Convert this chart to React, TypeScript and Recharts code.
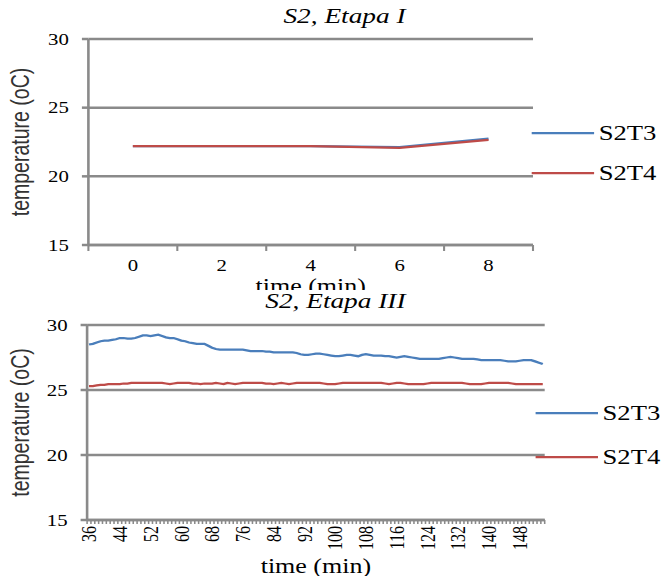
import React from 'react';
import { LineChart, Line, XAxis, YAxis, CartesianGrid, Legend, Label } from 'recharts';

// Stage I (minutes 0..8)
const stage1Minutes = [0, 2, 4, 6, 8];
const s2t3Stage1 = [22.2, 22.2, 22.2, 22.12, 22.75];
const s2t4Stage1 = [22.2, 22.2, 22.2, 22.08, 22.65];
const stage1TickMarks = [-1, 1, 3, 5, 7, 9];

// Stage III, one reading per minute from 36 to 154
const stage3Start = 36;
const s2t3Stage3 = [
  28.5, 28.55, 28.65, 28.75, 28.8, 28.8, 28.85, 28.9, 29.0, 29.0,
  28.95, 28.95, 29.0, 29.1, 29.2, 29.2, 29.15, 29.2, 29.25, 29.15,
  29.05, 29.0, 29.0, 28.9, 28.8, 28.75, 28.65, 28.6, 28.55, 28.55,
  28.55, 28.4, 28.25, 28.15, 28.1, 28.1, 28.1, 28.1, 28.1, 28.1,
  28.1, 28.05, 28.0, 28.0, 28.0, 28.0, 27.95, 27.95, 27.9, 27.9,
  27.9, 27.9, 27.9, 27.9, 27.85, 27.75, 27.7, 27.7, 27.75, 27.8,
  27.8, 27.75, 27.7, 27.65, 27.6, 27.6, 27.65, 27.7, 27.7, 27.65,
  27.6, 27.7, 27.75, 27.7, 27.65, 27.65, 27.65, 27.6, 27.6, 27.55,
  27.5, 27.55, 27.6, 27.55, 27.5, 27.45, 27.4, 27.4, 27.4, 27.4,
  27.4, 27.4, 27.45, 27.5, 27.55, 27.5, 27.45, 27.4, 27.4, 27.4,
  27.4, 27.35, 27.3, 27.3, 27.3, 27.3, 27.3, 27.3, 27.25, 27.2,
  27.2, 27.2, 27.25, 27.3, 27.3, 27.3, 27.2, 27.1, 27.0,
];
const s2t4Stage3 = [
  25.3, 25.3, 25.35, 25.4, 25.4, 25.45, 25.45, 25.45, 25.45, 25.5,
  25.5, 25.55, 25.55, 25.55, 25.55, 25.55, 25.55, 25.55, 25.55, 25.55,
  25.5, 25.45, 25.5, 25.55, 25.55, 25.55, 25.55, 25.5, 25.5, 25.45,
  25.5, 25.5, 25.5, 25.55, 25.5, 25.45, 25.55, 25.5, 25.45, 25.5,
  25.55, 25.55, 25.55, 25.55, 25.55, 25.55, 25.5, 25.5, 25.45, 25.5,
  25.55, 25.5, 25.45, 25.5, 25.55, 25.55, 25.55, 25.55, 25.55, 25.55,
  25.55, 25.5, 25.45, 25.45, 25.45, 25.5, 25.55, 25.55, 25.55, 25.55,
  25.55, 25.55, 25.55, 25.55, 25.55, 25.55, 25.55, 25.5, 25.45, 25.5,
  25.55, 25.55, 25.5, 25.45, 25.45, 25.45, 25.45, 25.45, 25.5, 25.55,
  25.55, 25.55, 25.55, 25.55, 25.55, 25.55, 25.55, 25.55, 25.5, 25.45,
  25.45, 25.45, 25.45, 25.5, 25.55, 25.55, 25.55, 25.55, 25.55, 25.55,
  25.5, 25.45, 25.45, 25.45, 25.45, 25.45, 25.45, 25.45, 25.45,
];
const stage3Minutes = s2t3Stage3.map((_, i) => stage3Start + i);
const stage3TickLabels = [36, 44, 52, 60, 68, 76, 84, 92, 100, 108, 116, 124, 132, 140, 148];
const stage3TickMarks = [...stage3Minutes.map((m) => m - 0.5), stage3Minutes[stage3Minutes.length - 1] + 0.5];

const yTicks = [15, 20, 25, 30];

const stage1Data = stage1Minutes.map((m, i) => ({ minute: m, S2T3: s2t3Stage1[i], S2T4: s2t4Stage1[i] }));
const stage3Data = stage3Minutes.map((m, i) => ({ minute: m, S2T3: s2t3Stage3[i], S2T4: s2t4Stage3[i] }));

const SX = 1.3; // the original picture is stretched sideways
const W = 509;
const GRID = '#8a8a8a';
const BLUE = '#4a7ebb';
const RED = '#be4b48';
const SERIF = '"Liberation Serif", "Times New Roman", serif';
const SANS = '"Liberation Sans", Arial, sans-serif';

const yTitle = (props: any) => {
  const { viewBox } = props;
  const cx = 16;
  const cy = viewBox.y + viewBox.height / 2;
  return (
    <text
      x={cx}
      y={cy}
      transform={`rotate(-90, ${cx}, ${cy})`}
      textAnchor="middle"
      dominantBaseline="central"
      fontFamily={SANS}
      fontSize={19.5}
      fill="#333"
    >
      temperature (oC)
    </text>
  );
};

// one axis draws both the short marks between categories and the labels under them
const stage1Tick = (props: any) => {
  const { x, y, payload } = props;
  if (stage1TickMarks.includes(payload.value)) {
    return <line x1={x} x2={x} y1={y} y2={y + 6} stroke={GRID} strokeWidth={1.6} />;
  }
  return (
    <text x={x} y={y + 15} dy="0.71em" textAnchor="middle" fontSize={16} fontFamily={SERIF} fill="#000">
      {payload.value}
    </text>
  );
};

const stage3Tick = (props: any) => {
  const { x, y, payload } = props;
  if (!stage3TickLabels.includes(payload.value)) {
    return <line x1={x} x2={x} y1={y} y2={y + 4} stroke={GRID} strokeWidth={1.2} />;
  }
  const ty = y + 6;
  return (
    <text x={x} y={ty} transform={`rotate(-90, ${x}, ${ty})`} textAnchor="end" dy="0.35em" fontSize={16} fontFamily={SERIF} fill="#000">
      {payload.value}
    </text>
  );
};

const legendContent = (gap: number) => (props: any) => (
  <svg width={100} height={gap + 24} style={{ overflow: 'visible' }}>
    {(props.payload || []).map((entry: any, i: number) => (
      <g key={entry.value}>
        <line x1={0} x2={48} y1={12 + i * gap} y2={12 + i * gap} stroke={entry.color} strokeWidth={2.25} />
        <text x={51.5} y={12 + i * gap} dy="0.35em" fontSize={20.5} fontFamily={SERIF} fill="#000">
          {entry.value}
        </text>
      </g>
    ))}
  </svg>
);

const yAxisProps = {
  type: 'number' as const,
  domain: [15, 30],
  ticks: yTicks,
  interval: 0,
  tickSize: 5,
  tickMargin: 10,
  axisLine: { stroke: GRID, strokeWidth: 2 },
  tickLine: { stroke: GRID, strokeWidth: 2.5 },
  tick: { fontSize: 16, fill: '#000', fontFamily: SERIF },
};

const App = () => {
  return (
    <div
      style={{
        position: 'absolute',
        left: 0,
        top: 0,
        width: W,
        height: 576,
        transform: `scaleX(${SX})`,
        transformOrigin: '0 0',
        fontFamily: SERIF,
        background: '#fff',
      }}
    >
      <div style={{ position: 'absolute', left: 0, top: 0, width: W, height: 290, overflow: 'hidden' }}>
        <LineChart width={W} height={290} data={stage1Data} margin={{ top: 39, right: 99, bottom: 0, left: 0 }}>
          <CartesianGrid horizontal vertical={false} stroke={GRID} strokeWidth={2.5} />
          <XAxis
            dataKey="minute"
            type="number"
            domain={[-1, 9]}
            ticks={[...stage1TickMarks, ...stage1Minutes].sort((a, b) => a - b)}
            interval={0}
            height={45}
            tickSize={0}
            tickMargin={0}
            tick={stage1Tick}
            tickLine={false}
            axisLine={{ stroke: GRID, strokeWidth: 2.5 }}
          >
            <Label value="time (min)" position="insideBottom" offset={-3} style={{ fontSize: 20, fill: '#000', fontFamily: SERIF }} />
          </XAxis>
          <YAxis width={68} {...yAxisProps}>
            <Label content={yTitle} />
          </YAxis>
          <Legend
            layout="horizontal"
            verticalAlign="middle"
            align="center"
            content={legendContent(40)}
            wrapperStyle={{ left: 409, top: 121, width: 100 }}
          />
          <Line type="linear" dataKey="S2T3" stroke={BLUE} strokeWidth={2.25} dot={false} isAnimationActive={false} />
          <Line type="linear" dataKey="S2T4" stroke={RED} strokeWidth={2.25} dot={false} isAnimationActive={false} />
        </LineChart>
      </div>

      <div style={{ position: 'absolute', left: 0, top: 290, width: W, height: 286, overflow: 'hidden' }}>
        <LineChart width={W} height={286} data={stage3Data} margin={{ top: 35, right: 90, bottom: 0, left: 0 }}>
          <CartesianGrid horizontal vertical={false} stroke={GRID} strokeWidth={2.5} />
          <XAxis
            dataKey="minute"
            type="number"
            domain={[35.5, 154.5]}
            ticks={[...stage3TickMarks, ...stage3TickLabels].sort((a, b) => a - b)}
            interval={0}
            height={56}
            tickSize={0}
            tickMargin={0}
            tick={stage3Tick}
            tickLine={false}
            axisLine={{ stroke: GRID, strokeWidth: 2.5 }}
          >
            <Label value="time (min)" position="insideBottom" offset={3} style={{ fontSize: 20, fill: '#000', fontFamily: SERIF }} />
          </XAxis>
          <YAxis width={67} {...yAxisProps}>
            <Label content={yTitle} />
          </YAxis>
          <Legend
            layout="horizontal"
            verticalAlign="middle"
            align="center"
            content={legendContent(44)}
            wrapperStyle={{ left: 412, top: 111, width: 100 }}
          />
          <Line type="linear" dataKey="S2T3" stroke={BLUE} strokeWidth={2.25} dot={false} isAnimationActive={false} />
          <Line type="linear" dataKey="S2T4" stroke={RED} strokeWidth={2.25} dot={false} isAnimationActive={false} />
        </LineChart>
      </div>

      <div style={{ position: 'absolute', left: 165, width: 200, top: 6, textAlign: 'center', fontStyle: 'italic', fontSize: 21, lineHeight: '21px' }}>
        S2, Etapa I
      </div>
      <div style={{ position: 'absolute', left: 158, width: 200, top: 291, textAlign: 'center', fontStyle: 'italic', fontSize: 21, lineHeight: '21px' }}>
        S2, Etapa III
      </div>
    </div>
  );
};

export default App;
